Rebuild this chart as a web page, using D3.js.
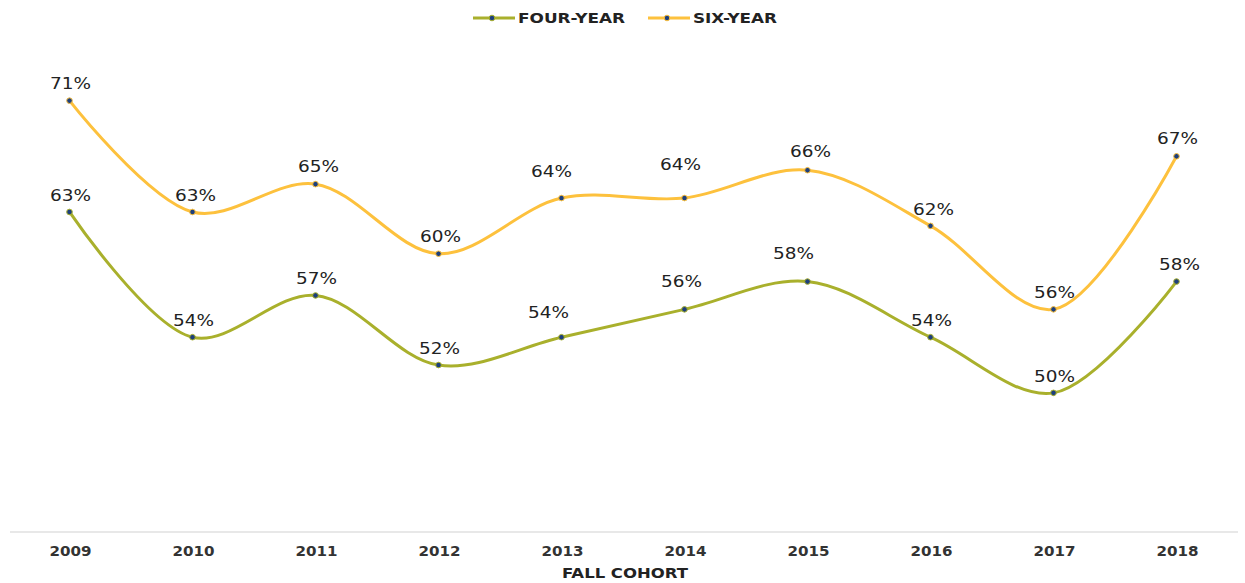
<!DOCTYPE html>
<html>
<head>
<meta charset="utf-8">
<script src="https://cdn.jsdelivr.net/npm/d3@7"></script>
<style>
  body { margin: 0; background: #fff; }
  .pt-label { font-family: "DejaVu Sans", sans-serif; font-size: 16px; fill: #222; }
  .tick-label { font-family: "DejaVu Sans", sans-serif; font-size: 14px; font-weight: bold; fill: #333; }
  .axis-title { font-family: "DejaVu Sans", sans-serif; font-size: 14px; font-weight: bold; fill: #222; }
  .legend-label { font-family: "DejaVu Sans", sans-serif; font-size: 14px; font-weight: bold; fill: #222; }
</style>
</head>
<body>
<svg id="chart" width="1245" height="583"></svg>
<script>
const years = ["2009", "2010", "2011", "2012", "2013", "2014", "2015", "2016", "2017", "2018"];
const fourYear = [63, 54, 57, 52, 54, 56, 58, 54, 50, 58];
const sixYear = [71, 63, 65, 60, 64, 64, 66, 62, 56, 67];
const seriesNames = ["FOUR-YEAR", "SIX-YEAR"];
const seriesColors = ["#a9b02c", "#fdc13d"];

// hand-placed label nudges (px) for the crowded middle of the chart
const labelLift = [
  [17, 17, 17, 17, 25, 28, 28, 17, 17, 17],
  [17, 17, 18, 17, 27, 34, 19, 17, 17, 18]
];
const labelShift = [
  [0, 0, 0, 0, -14, -4, -15, 0, 0, 2],
  [0, 2, 2, 1, -11, -5, 2, 2, 0, 0]
];

const svg = d3.select("#chart");
const width = 1245, height = 583;
const margin = { left: 8, right: 7, top: 45, bottom: 51 };

// scales
const x = d3.scalePoint()
  .domain(years)
  .range([margin.left, width - margin.right])
  .padding(0.5);

const y = d3.scaleLinear()
  .domain([40, 75])
  .range([height - margin.bottom, margin.top]);

// baseline
svg.append("line")
  .attr("x1", 10).attr("x2", 1238)
  .attr("y1", y(40)).attr("y2", y(40))
  .attr("stroke", "#e0e0e0")
  .attr("stroke-width", 1.5);

// x tick labels (wide face: stretch glyphs to the reference width)
svg.selectAll(".tick-label").data(years)
  .enter().append("text")
    .attr("class", "tick-label")
    .attr("x", d => x(d) + 1)
    .attr("y", 556)
    .attr("text-anchor", "middle")
    .attr("textLength", 42)
    .attr("lengthAdjust", "spacingAndGlyphs")
    .text(d => d);

svg.append("text")
  .attr("class", "axis-title")
  .attr("x", 625)
  .attr("y", 578)
  .attr("text-anchor", "middle")
  .attr("textLength", 126)
  .attr("lengthAdjust", "spacingAndGlyphs")
  .text("FALL COHORT");

// lines
const line = d3.line()
  .x((d, i) => x(years[i]))
  .y(d => y(d))
  .curve(d3.curveCatmullRom.alpha(0.5));

const data = [fourYear, sixYear];

data.forEach((vals, s) => {
  const g = svg.append("g");

  g.append("path")
    .datum(vals)
    .attr("fill", "none")
    .attr("stroke", seriesColors[s])
    .attr("stroke-width", 3)
    .attr("d", line);

  g.selectAll("circle").data(vals)
    .enter().append("circle")
      .attr("cx", (d, i) => x(years[i]))
      .attr("cy", d => y(d))
      .attr("r", 2.8)
      .attr("fill", "#1d3f7c")
      .attr("stroke", seriesColors[s])
      .attr("stroke-width", 1);

  g.selectAll("text").data(vals)
    .enter().append("text")
      .attr("class", "pt-label")
      .attr("x", (d, i) => x(years[i]) + labelShift[s][i] + 1)
      .attr("y", (d, i) => y(d) - labelLift[s][i])
      .attr("dy", "0.36em")
      .attr("text-anchor", "middle")
      .attr("textLength", 41)
      .attr("lengthAdjust", "spacingAndGlyphs")
      .text(d => d + "%");
});

// legend
const legendX = [473, 648];
const legendTextLen = [107, 84];
seriesNames.forEach((name, s) => {
  const lg = svg.append("g").attr("transform", `translate(${legendX[s]},18)`);
  lg.append("line")
    .attr("x1", 0).attr("x2", 42)
    .attr("stroke", seriesColors[s])
    .attr("stroke-width", 3);
  lg.append("circle")
    .attr("cx", 19).attr("r", 2.8)
    .attr("fill", "#1d3f7c")
    .attr("stroke", seriesColors[s]);
  lg.append("text")
    .attr("class", "legend-label")
    .attr("x", 45)
    .attr("y", 5)
    .attr("textLength", legendTextLen[s])
    .attr("lengthAdjust", "spacingAndGlyphs")
    .text(name);
});
</script>
</body>
</html>
